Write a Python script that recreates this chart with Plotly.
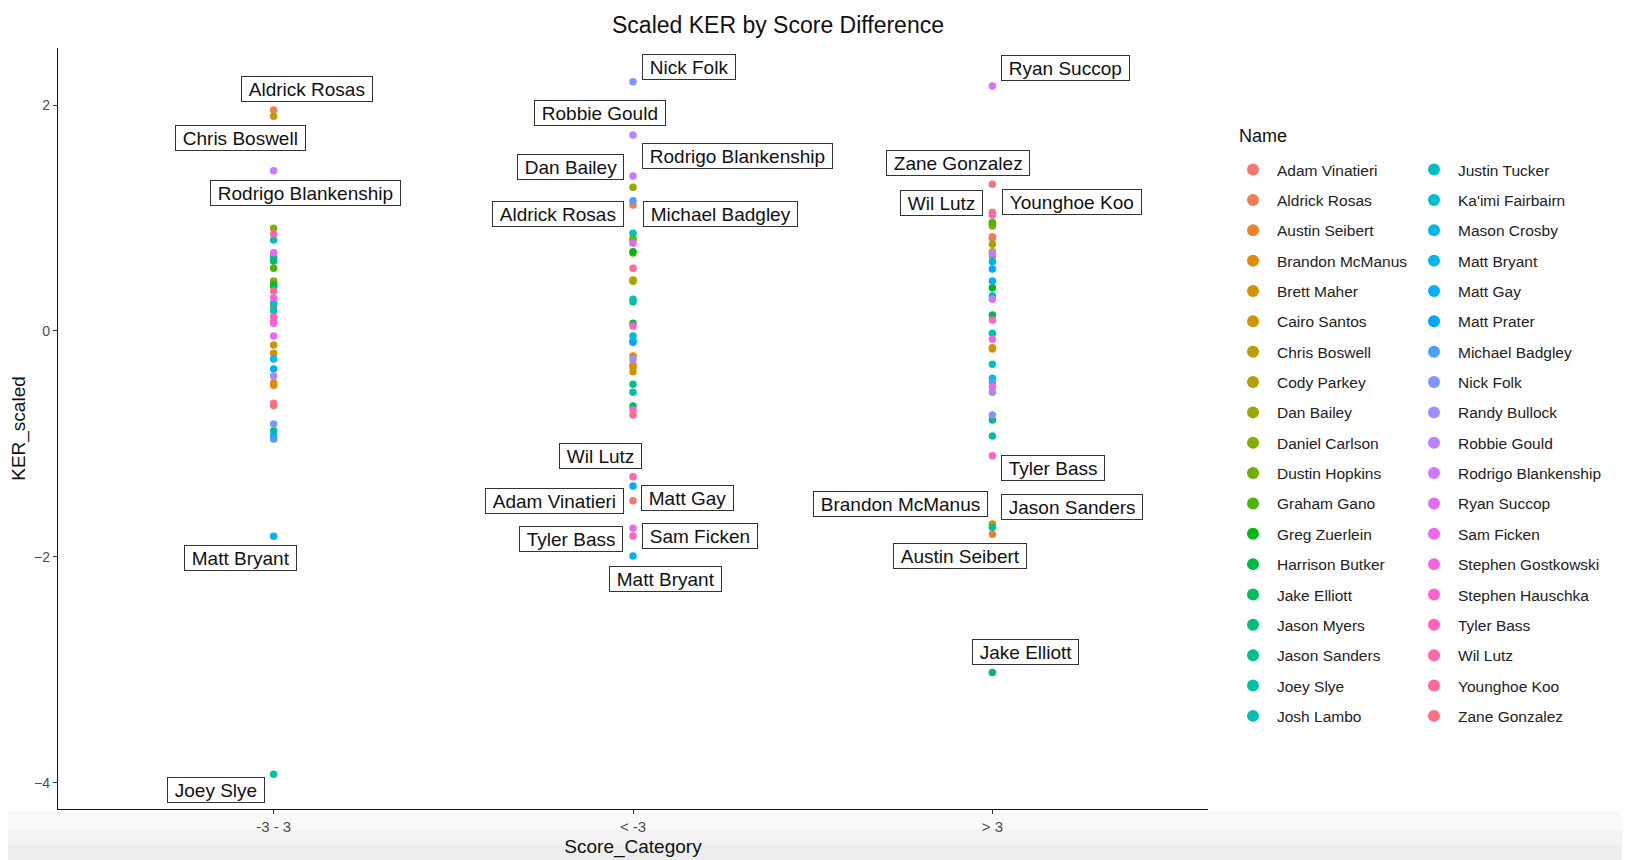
import math
import plotly.graph_objects as go

# ---------------- data ----------------
categories = ["-3 - 3", "< -3", "> 3"]

names = [
    "Adam Vinatieri", "Aldrick Rosas", "Austin Seibert", "Brandon McManus", "Brett Maher",
    "Cairo Santos", "Chris Boswell", "Cody Parkey", "Dan Bailey", "Daniel Carlson",
    "Dustin Hopkins", "Graham Gano", "Greg Zuerlein", "Harrison Butker", "Jake Elliott",
    "Jason Myers", "Jason Sanders", "Joey Slye", "Josh Lambo", "Justin Tucker",
    "Ka'imi Fairbairn", "Mason Crosby", "Matt Bryant", "Matt Gay", "Matt Prater",
    "Michael Badgley", "Nick Folk", "Randy Bullock", "Robbie Gould", "Rodrigo Blankenship",
    "Ryan Succop", "Sam Ficken", "Stephen Gostkowski", "Stephen Hauschka", "Tyler Bass",
    "Wil Lutz", "Younghoe Koo", "Zane Gonzalez",
]

# KER_scaled for score difference "-3 - 3"
ker_close = [
    -0.66, 1.955, -0.459, -0.48, -0.198,
    -0.125, 1.90, 0.214, 0.442, 0.908,
    0.425, 0.554, 0.395, 0.407, 0.62,
    0.657, -0.884, -3.926, 0.805, 0.179,
    0.244, -0.249, -1.817, -0.337, -0.93,
    -0.958, -0.824, -0.399, 0.067, 1.418,
    0.692, -0.045, 0.294, 0.08, 0.126,
    0.858, 0.354, -0.641,
]

# KER_scaled for score difference "< -3"
ker_behind = [
    -1.503, 1.115, -0.30, -0.222, -0.322,
    -0.361, 0.451, 0.44, 1.271, 0.82,
    0.80, 0.69, 0.701, 0.067, -0.665,
    0.259, -0.473, -0.544, 0.864, 0.28,
    -0.045, -0.089, -1.993, -1.373, -0.10,
    1.153, 2.206, -0.251, 1.734, 1.371,
    0.776, -1.748, -0.70, 0.043, -1.816,
    -1.291, 0.554, -0.745,
]

# KER_scaled for score difference "> 3"
ker_ahead = [
    0.82, 0.834, -1.80, -1.71, -0.16,
    -0.149, 0.70, 0.767, 0.929, 0.663,
    0.95, 0.961, 0.383, 0.141, -3.025,
    -0.789, -1.739, -0.93, -0.021, -0.296,
    0.312, -0.42, 0.613, 0.442, 0.548,
    -0.459, -0.745, -0.544, 0.687, 0.28,
    2.168, -0.074, -0.494, 0.097, -1.105,
    1.026, 1.05, 1.298,
]

series_by_cat = [ker_close, ker_behind, ker_ahead]

# ---------------- styling helpers ----------------
FONT = "Liberation Sans, Arial, Helvetica, sans-serif"


def hcl_to_hex(h, c=100.0, l=65.0):
    # polar Luv (HCL) -> sRGB, D65 white, like R's grDevices::hcl
    Xn, Yn, Zn = 95.047, 100.0, 108.883
    hr = math.radians(h)
    u = c * math.cos(hr)
    v = c * math.sin(hr)
    Y = Yn * ((l + 16) / 116) ** 3 if l > 8 else Yn * l / 903.3
    den = Xn + 15 * Yn + 3 * Zn
    un, vn = 4 * Xn / den, 9 * Yn / den
    up = u / (13 * l) + un
    vp = v / (13 * l) + vn
    X = 9 * Y * up / (4 * vp)
    Z = Y * (12 - 3 * up - 20 * vp) / (4 * vp)
    X, Y, Z = X / 100, Y / 100, Z / 100
    r = 3.2404542 * X - 1.5371385 * Y - 0.4985314 * Z
    g = -0.9692660 * X + 1.8760108 * Y + 0.0415560 * Z
    b = 0.0556434 * X - 0.2040259 * Y + 1.0572252 * Z

    def gam(x):
        x = 12.92 * x if x <= 0.0031308 else 1.055 * x ** (1 / 2.4) - 0.055
        return min(max(x, 0.0), 1.0)

    return "#%02X%02X%02X" % tuple(int(round(gam(k) * 255)) for k in (r, g, b))


n = len(names)
palette = [hcl_to_hex(15 + 360 * i / n) for i in range(n)]

# page geometry (the html body adds an 8 px offset)
W, H = 1622, 852
ML, MT = 50, 40
PW, PH = 1150, 761
SX0, SY1 = 8 + ML, 8 + MT + PH   # screen x of plot left, screen y of plot bottom


def px_x(sx):
    return (sx - SX0) / PW


def px_y(sy):
    return (SY1 - sy) / PH


fig = go.Figure()

half = (n + 1) // 2
for i, nm in enumerate(names):
    xs, ys = [], []
    for cat, vals in zip(categories, series_by_cat):
        xs.append(cat)
        ys.append(vals[i])
    fig.add_trace(go.Scatter(
        x=xs, y=ys, mode="markers", name=nm,
        marker=dict(color=palette[i], size=7.5, line=dict(width=0)),
        legend="legend" if i < half else "legend2",
        legendgroup=nm,
    ))

# label offsets (pixels) for the repelled labels, keyed by (category, name)
label_offsets = {
    ("-3 - 3", "Aldrick Rosas"): (33, -21),
    ("-3 - 3", "Chris Boswell"): (-33, 22),
    ("-3 - 3", "Rodrigo Blankenship"): (32, 22),
    ("-3 - 3", "Matt Bryant"): (-33, 22),
    ("-3 - 3", "Joey Slye"): (-58, 16),
    ("< -3", "Nick Folk"): (56, -15),
    ("< -3", "Robbie Gould"): (-33, -22),
    ("< -3", "Rodrigo Blankenship"): (104, -20),
    ("< -3", "Dan Bailey"): (-63, -20),
    ("< -3", "Aldrick Rosas"): (-75, 9),
    ("< -3", "Michael Badgley"): (87, 13),
    ("< -3", "Wil Lutz"): (-33, -21),
    ("< -3", "Adam Vinatieri"): (-79, 0),
    ("< -3", "Matt Gay"): (54, 12),
    ("< -3", "Tyler Bass"): (-62, 3),
    ("< -3", "Sam Ficken"): (67, 8),
    ("< -3", "Matt Bryant"): (32, 23),
    ("> 3", "Ryan Succop"): (73, -18),
    ("> 3", "Zane Gonzalez"): (-34, -21),
    ("> 3", "Wil Lutz"): (-51, -12),
    ("> 3", "Younghoe Koo"): (80, -10),
    ("> 3", "Tyler Bass"): (61, 12),
    ("> 3", "Brandon McManus"): (-92, -20),
    ("> 3", "Jason Sanders"): (80, -20),
    ("> 3", "Austin Seibert"): (-32, 22),
    ("> 3", "Jake Elliott"): (33, -21),
}

NB = "\u00a0"
annotations = []
for cat, vals in zip(categories, series_by_cat):
    for nm, v in zip(names, vals):
        if abs(v) > 1:
            dx, dy = label_offsets.get((cat, nm), (40, 0))
            annotations.append(dict(
                x=cat, y=v, xref="x", yref="y", text=NB + nm + NB, showarrow=False,
                xshift=dx, yshift=-dy,
                font=dict(family=FONT, size=19, color="#111111"),
                bgcolor="white", bordercolor="#333333", borderwidth=1,
                borderpad=1.5,
            ))

# legend title drawn as text so the gap to the first entry matches
annotations.append(dict(
    text="Name", xref="paper", yref="paper", x=px_x(1237), y=px_y(136),
    xanchor="left", yanchor="middle", showarrow=False,
    font=dict(family=FONT, size=18, color="#111111"),
))

fig.update_layout(
    width=W, height=H,
    paper_bgcolor="white", plot_bgcolor="white",
    margin=dict(l=ML, r=W - ML - PW, t=MT, b=H - MT - PH, autoexpand=False),
    font=dict(family=FONT, color="#222222"),
    title=dict(text="Scaled KER by Score Difference", x=px_x(778), xref="paper",
               y=1 - 17 / H, yanchor="middle",
               font=dict(family=FONT, size=23, color="#111111")),
    xaxis=dict(
        type="category", categoryorder="array", categoryarray=categories,
        range=[-0.6, 2.6], showgrid=False, zeroline=False, automargin=False,
        showline=True, linecolor="#111111", linewidth=1.3,
        ticks="outside", ticklen=4, tickcolor="#333333", tickwidth=1,
        tickvals=categories, ticktext=["-3 - 3", "&lt; -3", "&gt; 3"],
        tickfont=dict(family=FONT, size=15, color="#4D4D4D"),
        title=dict(text="Score_Category", standoff=5,
                   font=dict(family=FONT, size=19, color="#111111")),
    ),
    yaxis=dict(
        range=[-4.233, 2.505], showgrid=False, zeroline=False, automargin=False,
        showline=True, linecolor="#111111", linewidth=1.3,
        ticks="outside", ticklen=4, tickcolor="#333333", tickwidth=1,
        tickvals=[-4, -2, 0, 2],
        tickfont=dict(family=FONT, size=14, color="#4D4D4D"),
        title=dict(text="KER_scaled", standoff=4,
                   font=dict(family=FONT, size=19, color="#111111")),
    ),
    legend=dict(
        x=px_x(1229), xanchor="left", y=px_y(153), yanchor="top",
        font=dict(family=FONT, size=15.5, color="#222222"),
        traceorder="grouped", tracegroupgap=7.2, itemsizing="constant",
        itemwidth=38, bgcolor="rgba(0,0,0,0)",
    ),
    legend2=dict(
        x=px_x(1410), xanchor="left", y=px_y(153), yanchor="top",
        font=dict(family=FONT, size=15.5, color="#222222"),
        traceorder="grouped", tracegroupgap=7.2, itemsizing="constant",
        itemwidth=38, bgcolor="rgba(0,0,0,0)",
    ),
    annotations=annotations,
    shapes=[
        dict(type="rect", xref="paper", yref="paper", layer="below",
             x0=px_x(0), x1=px_x(1640), y0=px_y(811), y1=px_y(830),
             fillcolor="#F9F9F9", line=dict(width=0)),
        dict(type="rect", xref="paper", yref="paper", layer="below",
             x0=px_x(0), x1=px_x(1640), y0=px_y(830), y1=px_y(845),
             fillcolor="#F3F3F3", line=dict(width=0)),
        dict(type="rect", xref="paper", yref="paper", layer="below",
             x0=px_x(0), x1=px_x(1640), y0=px_y(845), y1=px_y(870),
             fillcolor="#EDEDED", line=dict(width=0)),
    ],
    showlegend=True,
)

fig.write_html("out.html")
